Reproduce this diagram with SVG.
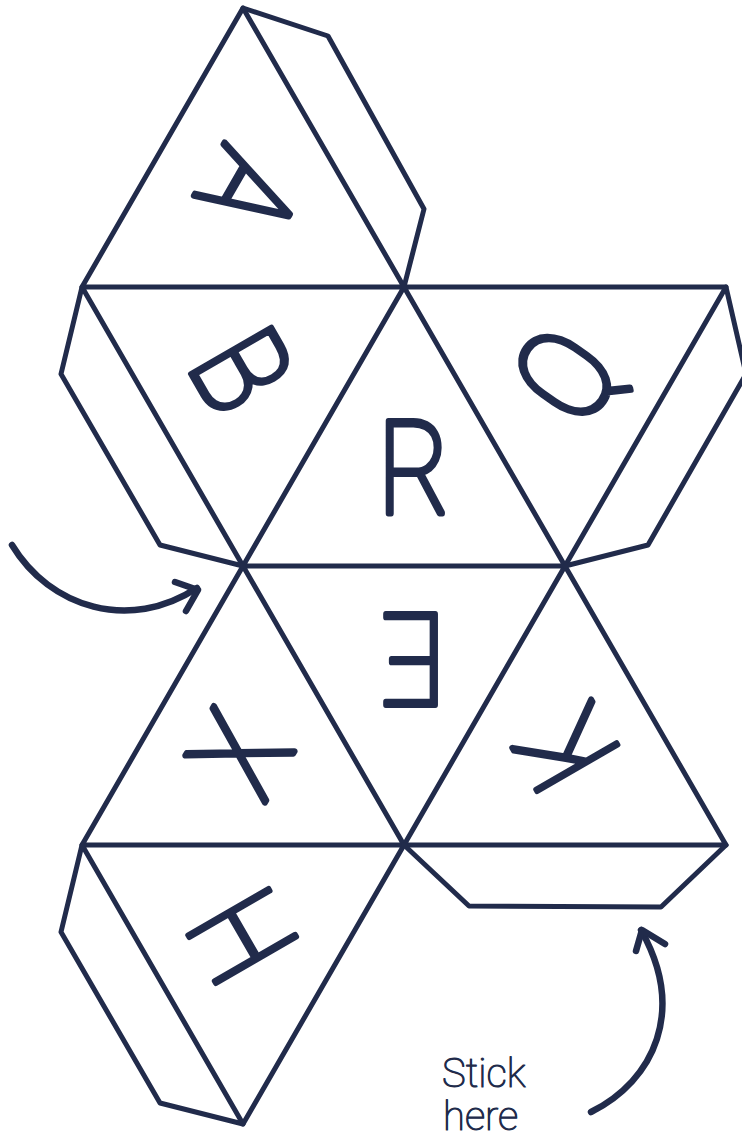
<svg xmlns="http://www.w3.org/2000/svg" width="742" height="1131" viewBox="0 0 742 1131">
<style>
.l{fill:none;stroke:#212b4b;stroke-width:5;stroke-linecap:round;stroke-linejoin:round}
.a{fill:none;stroke:#212b4b;stroke-width:6.5;stroke-linecap:round;stroke-linejoin:round}
.t{font-family:"Roboto","Liberation Sans",sans-serif;font-weight:100;font-size:130px;fill:#212b4b;stroke:#212b4b;stroke-width:6;stroke-linejoin:round;text-anchor:middle}
.c{font-family:"Roboto","Liberation Sans",sans-serif;font-weight:100;font-size:40px;fill:#212b4b;stroke:#212b4b;stroke-width:1.1;stroke-linejoin:round}
</style>
<rect width="742" height="1131" fill="#fff"/>
<g id="connectors">
<path class="a" d="M12,545C50,608 130,632 197,588"/>
<path class="a" d="M175,582L198,590L186,611"/>
<path class="a" d="M591,1112C655,1080 686,1010 641,930"/>
<path class="a" d="M636,951L642,930L665,944"/>
</g>
<g id="net">
<path class="l" d="M243,8L82,287H404ZM82,287L243,566L404,287L565,566H243L404,845L565,566L726,845H404H82L243,566M404,287H726L565,566M82,845L243,1124L404,845"/>
</g>
<g id="flaps">
<path class="l" d="M243,8L328,36L424,209L404,287"/>
<path class="l" d="M82,287L61,374L160,545L243,566"/>
<path class="l" d="M726,287L746,374L648,545L565,566"/>
<path class="l" d="M82,845L61,932L160,1103L243,1124"/>
<path class="l" d="M404,845L469,906L661,907L726,845"/>
</g>
<g id="node-A"><text class="t" transform="translate(249,192) rotate(120) scale(.85,1) translate(0,46)">A</text></g>
<g id="node-B"><text class="t" transform="translate(242,370) rotate(60) scale(.85,1) translate(0,46)">B</text></g>
<g id="node-R"><text class="t" transform="translate(414,468) scale(.85,1) translate(0,46)">R</text></g>
<g id="node-Q"><text class="t" transform="translate(565,375) rotate(-55) scale(.85,1) translate(0,46)">Q</text></g>
<g id="node-E"><text class="t" transform="translate(414,659) rotate(180) scale(.88,.98) translate(0,46)">E</text></g>
<g id="node-X"><text class="t" transform="translate(240,754) rotate(-60) scale(.85,1) translate(0,46)">X</text></g>
<g id="node-K"><text class="t" transform="translate(566,748) rotate(-120) scale(.82,1) translate(0,46)">K</text></g>
<g id="node-H"><text class="t" transform="translate(242,936) rotate(60) scale(.85,1) translate(0,46)">H</text></g>
<g id="caption"><text class="c" x="442" y="1087">Stick</text><text class="c" x="443" y="1130">here</text></g>
</svg>
